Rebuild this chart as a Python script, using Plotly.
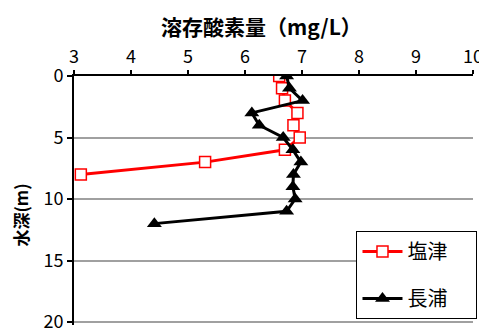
import plotly.graph_objects as go

depth_shiotsu = [0, 1, 2, 3, 4, 5, 6, 7, 8]
do_shiotsu = [6.6, 6.65, 6.7, 6.92, 6.85, 6.96, 6.7, 5.3, 3.12]

depth_nagaura = [0, 1, 2, 3, 4, 5, 6, 7, 8, 9, 10, 11, 12]
do_nagaura = [6.73, 6.78, 7.01, 6.12, 6.25, 6.67, 6.84, 6.98, 6.85, 6.84, 6.88, 6.73, 4.41]

x_ticks = [3, 4, 5, 6, 7, 8, 9, 10]
y_ticks = [0, 5, 10, 15, 20]

series_names = ["塩津", "長浦"]

FONT = "Noto Sans CJK JP"
PAD = "\u3000\u2009"  # invisible padding to widen the legend box

fig = go.Figure()
fig.add_trace(go.Scatter(
    x=do_shiotsu, y=depth_shiotsu, name=series_names[0] + PAD, mode="lines+markers",
    line=dict(color="#ff0000", width=3),
    marker=dict(symbol="square", size=11, color="white", line=dict(color="#ff0000", width=1.5)),
    legendgroup="a",
))
fig.add_trace(go.Scatter(
    x=do_nagaura, y=depth_nagaura, name=series_names[1] + PAD, mode="lines+markers",
    line=dict(color="black", width=3),
    marker=dict(symbol="triangle-up", size=13, color="black", line=dict(color="black", width=0)),
    legendgroup="b",
))

# the page body has an 8px margin, so the figure is sized/offset to compensate
fig.update_layout(
    width=479, height=321,
    margin=dict(l=66, r=14, t=68, b=4, autoexpand=False),
    paper_bgcolor="white", plot_bgcolor="white",
    font=dict(family=FONT, size=18, color="black"),
    showlegend=True,
    legend=dict(
        x=0.708, y=0.378, xanchor="left", yanchor="top",
        bordercolor="black", borderwidth=1, bgcolor="white",
        font=dict(family=FONT, size=20, color="black"),
        traceorder="grouped", tracegroupgap=18,
        itemwidth=40,
    ),
    xaxis=dict(
        side="top", range=[3, 10], tickvals=x_ticks, ticktext=[str(v) for v in x_ticks],
        showgrid=False, zeroline=False, automargin=False,
        showline=True, linecolor="black", linewidth=2,
        ticks="outside", ticklen=4, tickwidth=2, tickcolor="black",
        tickfont=dict(size=18), mirror=False, ticklabeloverflow="allow",
    ),
    yaxis=dict(
        range=[20.24, 0], tickvals=y_ticks, ticktext=[str(v) for v in y_ticks],
        showgrid=True, gridcolor="#a0a0a0", gridwidth=1.5, zeroline=False, automargin=False,
        showline=True, linecolor="black", linewidth=2,
        ticks="outside", ticklen=5, tickwidth=2, tickcolor="black",
        tickfont=dict(size=18), ticklabeloverflow="allow",
    ),
    annotations=[
        dict(text="<b>溶存酸素量（mg/L）</b>", x=0.469, y=1.2, xref="paper", yref="paper",
             xanchor="center", yanchor="middle", showarrow=False,
             font=dict(family=FONT, size=21, color="black")),
        dict(text="<b>水深(m)</b>", x=-0.135, y=0.44, xref="paper", yref="paper",
             xanchor="center", yanchor="middle", showarrow=False, textangle=-90,
             font=dict(family=FONT, size=17, color="black")),
    ],
)

fig.write_html("out.html")
